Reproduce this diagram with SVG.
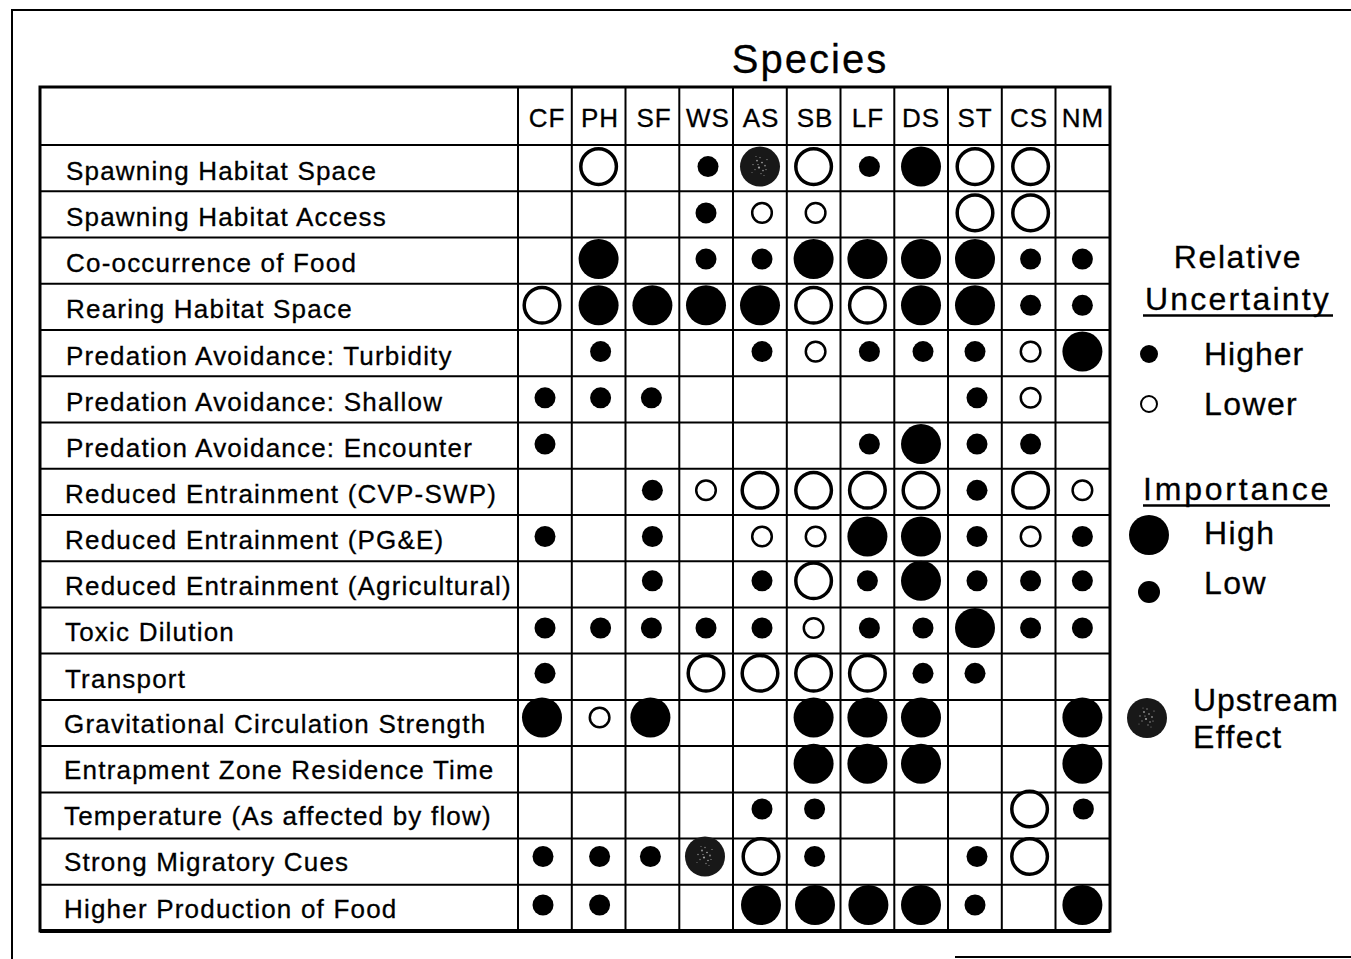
<svg xmlns="http://www.w3.org/2000/svg" xmlns:xlink="http://www.w3.org/1999/xlink" width="1351" height="959" viewBox="0 0 1351 959">
  <style>
    text { font-family: "Liberation Sans", Arial, Helvetica, sans-serif; fill: #000; stroke: #000; stroke-width: 0.3px; }
    .lbl { font-size: 26px; letter-spacing: 1.2px; }
    .hdr { font-size: 26px; letter-spacing: 1px; text-anchor: middle; }
    .title { font-size: 40px; letter-spacing: 2px; text-anchor: middle; }
    .leg { font-size: 32px; letter-spacing: 1.4px; }
    .legc { font-size: 32px; letter-spacing: 1.6px; text-anchor: middle; }
    .grid { stroke: #000; stroke-width: 2; fill: none; }
    .frame { stroke: #000; stroke-width: 2; fill: none; }
    .ul { stroke: #000; stroke-width: 2.5; }
  </style>
  <defs>
    <!-- high importance, higher uncertainty -->
    <g id="F"><circle r="20" fill="#000"/></g>
    <!-- low importance, higher uncertainty -->
    <g id="f"><circle r="10.5" fill="#000"/></g>
    <!-- high importance, lower uncertainty -->
    <g id="O"><circle r="17.8" fill="none" stroke="#000" stroke-width="3.5"/></g>
    <!-- low importance, lower uncertainty -->
    <g id="o"><circle r="9.8" fill="none" stroke="#000" stroke-width="2.5"/></g>
    <!-- upstream effect: dark speckled disc -->
    <g id="U">
      <circle r="20" fill="#181818"/>
      <circle cx="-3" cy="-6" r="0.9" fill="#9a9a9a"/>
      <circle cx="2" cy="-4" r="0.8" fill="#b0b0b0"/>
      <circle cx="5" cy="-1" r="0.9" fill="#8a8a8a"/>
      <circle cx="-1" cy="1" r="1.1" fill="#a0a0a0"/>
      <circle cx="3" cy="4" r="0.8" fill="#9a9a9a"/>
      <circle cx="-5" cy="3" r="0.7" fill="#888"/>
      <circle cx="0" cy="-9" r="0.7" fill="#999"/>
      <circle cx="7" cy="-7" r="0.6" fill="#aaa"/>
      <circle cx="-7" cy="-2" r="0.7" fill="#999"/>
      <circle cx="1" cy="7" r="0.7" fill="#888"/>
      <circle cx="6" cy="3" r="0.6" fill="#aaa"/>
      <circle cx="-2" cy="-2" r="0.6" fill="#bbb"/>
      <circle cx="-4" cy="-10" r="0.5" fill="#999"/>
      <circle cx="4" cy="9" r="0.5" fill="#999"/>
      <circle cx="-8" cy="6" r="0.5" fill="#888"/>
    </g>
  </defs>

  <rect width="1351" height="959" fill="#fff"/>

  <!-- page frame -->
  <g id="frame" class="frame">
    <polyline points="12,959 12,10 1351,10"/>
    <line x1="955" y1="957" x2="1351" y2="957"/>
  </g>

  <text id="title" class="title" x="810" y="73">Species</text>

  <!-- table grid -->
  <g id="grid" class="grid">
    <rect x="40" y="87" width="1070" height="844" stroke-width="3"/>
    <line x1="40" y1="931" x2="1110" y2="931" stroke-width="4"/>
    <line x1="40" y1="145" x2="1110" y2="145"/>
    <line x1="40" y1="191.2" x2="1110" y2="191.2"/>
    <line x1="40" y1="237.5" x2="1110" y2="237.5"/>
    <line x1="40" y1="283.7" x2="1110" y2="283.7"/>
    <line x1="40" y1="330" x2="1110" y2="330"/>
    <line x1="40" y1="376.2" x2="1110" y2="376.2"/>
    <line x1="40" y1="422.4" x2="1110" y2="422.4"/>
    <line x1="40" y1="468.7" x2="1110" y2="468.7"/>
    <line x1="40" y1="514.9" x2="1110" y2="514.9"/>
    <line x1="40" y1="561.2" x2="1110" y2="561.2"/>
    <line x1="40" y1="607.4" x2="1110" y2="607.4"/>
    <line x1="40" y1="653.6" x2="1110" y2="653.6"/>
    <line x1="40" y1="699.9" x2="1110" y2="699.9"/>
    <line x1="40" y1="746.1" x2="1110" y2="746.1"/>
    <line x1="40" y1="792.4" x2="1110" y2="792.4"/>
    <line x1="40" y1="838.6" x2="1110" y2="838.6"/>
    <line x1="40" y1="884.8" x2="1110" y2="884.8"/>
    <line x1="518" y1="87" x2="518" y2="931"/>
    <line x1="571.8" y1="87" x2="571.8" y2="931"/>
    <line x1="625.5" y1="87" x2="625.5" y2="931"/>
    <line x1="679.3" y1="87" x2="679.3" y2="931"/>
    <line x1="733" y1="87" x2="733" y2="931"/>
    <line x1="786.8" y1="87" x2="786.8" y2="931"/>
    <line x1="840.5" y1="87" x2="840.5" y2="931"/>
    <line x1="894.3" y1="87" x2="894.3" y2="931"/>
    <line x1="948" y1="87" x2="948" y2="931"/>
    <line x1="1001.8" y1="87" x2="1001.8" y2="931"/>
    <line x1="1055.5" y1="87" x2="1055.5" y2="931"/>
  </g>

  <!-- species column headings -->
  <g id="headers">
    <text class="hdr" x="547" y="127">CF</text>
    <text class="hdr" x="600" y="127">PH</text>
    <text class="hdr" x="654" y="127">SF</text>
    <text class="hdr" x="708" y="127">WS</text>
    <text class="hdr" x="761" y="127">AS</text>
    <text class="hdr" x="815" y="127">SB</text>
    <text class="hdr" x="868" y="127">LF</text>
    <text class="hdr" x="921" y="127">DS</text>
    <text class="hdr" x="975" y="127">ST</text>
    <text class="hdr" x="1029" y="127">CS</text>
    <text class="hdr" x="1083" y="127">NM</text>
  </g>

  <!-- factor rows -->
  <g id="row-spawning-space">
    <text class="lbl" x="66" y="180">Spawning Habitat Space</text>
    <use href="#O" x="598.6" y="166.6"/>
    <use href="#f" x="708" y="166.6"/>
    <use href="#U" x="760" y="166.6"/>
    <use href="#O" x="813.6" y="166.6"/>
    <use href="#f" x="869.4" y="166.6"/>
    <use href="#F" x="921" y="166.6"/>
    <use href="#O" x="975" y="166.6"/>
    <use href="#O" x="1030.6" y="166.6"/>
  </g>
  <g id="row-spawning-access">
    <text class="lbl" x="66" y="226">Spawning Habitat Access</text>
    <use href="#f" x="706" y="212.9"/>
    <use href="#o" x="762" y="212.9"/>
    <use href="#o" x="815.6" y="212.9"/>
    <use href="#O" x="975" y="212.9"/>
    <use href="#O" x="1030.6" y="212.9"/>
  </g>
  <g id="row-food-cooccurrence">
    <text class="lbl" x="66" y="272">Co-occurrence of Food</text>
    <use href="#F" x="598.6" y="259.1"/>
    <use href="#f" x="706" y="259.1"/>
    <use href="#f" x="762" y="259.1"/>
    <use href="#F" x="813.6" y="259.1"/>
    <use href="#F" x="867.4" y="259.1"/>
    <use href="#F" x="921" y="259.1"/>
    <use href="#F" x="975" y="259.1"/>
    <use href="#f" x="1030.6" y="259.1"/>
    <use href="#f" x="1082.4" y="259.1"/>
  </g>
  <g id="row-rearing-space">
    <text class="lbl" x="66" y="318">Rearing Habitat Space</text>
    <use href="#O" x="542" y="305.3"/>
    <use href="#F" x="598.6" y="305.3"/>
    <use href="#F" x="652.4" y="305.3"/>
    <use href="#F" x="706" y="305.3"/>
    <use href="#F" x="760" y="305.3"/>
    <use href="#O" x="813.6" y="305.3"/>
    <use href="#O" x="867.4" y="305.3"/>
    <use href="#F" x="921" y="305.3"/>
    <use href="#F" x="975" y="305.3"/>
    <use href="#f" x="1030.6" y="305.3"/>
    <use href="#f" x="1082.4" y="305.3"/>
  </g>
  <g id="row-predation-turbidity">
    <text class="lbl" x="66" y="365">Predation Avoidance: Turbidity</text>
    <use href="#f" x="600.6" y="351.6"/>
    <use href="#f" x="762" y="351.6"/>
    <use href="#o" x="815.6" y="351.6"/>
    <use href="#f" x="869.4" y="351.6"/>
    <use href="#f" x="923" y="351.6"/>
    <use href="#f" x="975" y="351.6"/>
    <use href="#o" x="1030.6" y="351.6"/>
    <use href="#F" x="1082.4" y="351.6"/>
  </g>
  <g id="row-predation-shallow">
    <text class="lbl" x="66" y="411">Predation Avoidance: Shallow</text>
    <use href="#f" x="545" y="397.8"/>
    <use href="#f" x="600.6" y="397.8"/>
    <use href="#f" x="651.4" y="397.8"/>
    <use href="#f" x="977" y="397.8"/>
    <use href="#o" x="1030.6" y="397.8"/>
  </g>
  <g id="row-predation-encounter">
    <text class="lbl" x="66" y="457">Predation Avoidance: Encounter</text>
    <use href="#f" x="545" y="444.1"/>
    <use href="#f" x="869.4" y="444.1"/>
    <use href="#F" x="921" y="444.1"/>
    <use href="#f" x="977" y="444.1"/>
    <use href="#f" x="1030.6" y="444.1"/>
  </g>
  <g id="row-entrainment-cvp">
    <text class="lbl" x="65" y="503">Reduced Entrainment (CVP-SWP)</text>
    <use href="#f" x="652.4" y="490.3"/>
    <use href="#o" x="706" y="490.3"/>
    <use href="#O" x="760" y="490.3"/>
    <use href="#O" x="813.6" y="490.3"/>
    <use href="#O" x="867.4" y="490.3"/>
    <use href="#O" x="921" y="490.3"/>
    <use href="#f" x="977" y="490.3"/>
    <use href="#O" x="1030.6" y="490.3"/>
    <use href="#o" x="1082.4" y="490.3"/>
  </g>
  <g id="row-entrainment-pge">
    <text class="lbl" x="65" y="549">Reduced Entrainment (PG&amp;E)</text>
    <use href="#f" x="545" y="536.5"/>
    <use href="#f" x="652.4" y="536.5"/>
    <use href="#o" x="762" y="536.5"/>
    <use href="#o" x="815.6" y="536.5"/>
    <use href="#F" x="867.4" y="536.5"/>
    <use href="#F" x="921" y="536.5"/>
    <use href="#f" x="977" y="536.5"/>
    <use href="#o" x="1030.6" y="536.5"/>
    <use href="#f" x="1082.4" y="536.5"/>
  </g>
  <g id="row-entrainment-agricultural">
    <text class="lbl" x="65" y="595">Reduced Entrainment (Agricultural)</text>
    <use href="#f" x="652.4" y="580.8"/>
    <use href="#f" x="762" y="580.8"/>
    <use href="#O" x="813.6" y="580.8"/>
    <use href="#f" x="867.4" y="580.8"/>
    <use href="#F" x="921" y="580.8"/>
    <use href="#f" x="977" y="580.8"/>
    <use href="#f" x="1030.6" y="580.8"/>
    <use href="#f" x="1082.4" y="580.8"/>
  </g>
  <g id="row-toxic-dilution">
    <text class="lbl" x="65" y="641">Toxic Dilution</text>
    <use href="#f" x="545" y="628"/>
    <use href="#f" x="600.6" y="628"/>
    <use href="#f" x="651.4" y="628"/>
    <use href="#f" x="706" y="628"/>
    <use href="#f" x="762" y="628"/>
    <use href="#o" x="813.6" y="628"/>
    <use href="#f" x="869.4" y="628"/>
    <use href="#f" x="923" y="628"/>
    <use href="#F" x="975" y="628"/>
    <use href="#f" x="1030.6" y="628"/>
    <use href="#f" x="1082.4" y="628"/>
  </g>
  <g id="row-transport">
    <text class="lbl" x="65" y="688">Transport</text>
    <use href="#f" x="545" y="673.3"/>
    <use href="#O" x="706" y="673.3"/>
    <use href="#O" x="760" y="673.3"/>
    <use href="#O" x="813.6" y="673.3"/>
    <use href="#O" x="867.4" y="673.3"/>
    <use href="#f" x="923" y="673.3"/>
    <use href="#f" x="975" y="673.3"/>
  </g>
  <g id="row-gravitational-circulation">
    <text class="lbl" x="64" y="733">Gravitational Circulation Strength</text>
    <use href="#F" x="542" y="717.5"/>
    <use href="#o" x="599.6" y="717.5"/>
    <use href="#F" x="650.4" y="717.5"/>
    <use href="#F" x="813.6" y="717.5"/>
    <use href="#F" x="867.4" y="717.5"/>
    <use href="#F" x="921" y="717.5"/>
    <use href="#F" x="1082.4" y="717.5"/>
  </g>
  <g id="row-entrapment-residence">
    <text class="lbl" x="64" y="779">Entrapment Zone Residence Time</text>
    <use href="#F" x="813.6" y="763.7"/>
    <use href="#F" x="867.4" y="763.7"/>
    <use href="#F" x="921" y="763.7"/>
    <use href="#F" x="1082.4" y="763.7"/>
  </g>
  <g id="row-temperature">
    <text class="lbl" x="64" y="825">Temperature (As affected by flow)</text>
    <use href="#f" x="762" y="809"/>
    <use href="#f" x="814.6" y="809"/>
    <use href="#O" x="1029.6" y="809"/>
    <use href="#f" x="1083.4" y="809"/>
  </g>
  <g id="row-migratory-cues">
    <text class="lbl" x="64" y="871">Strong Migratory Cues</text>
    <use href="#f" x="543" y="856.5"/>
    <use href="#f" x="599.6" y="856.5"/>
    <use href="#f" x="650.4" y="856.5"/>
    <use href="#U" x="705" y="856.5"/>
    <use href="#O" x="761" y="856.5"/>
    <use href="#f" x="814.6" y="856.5"/>
    <use href="#f" x="977" y="856.5"/>
    <use href="#O" x="1029.6" y="856.5"/>
  </g>
  <g id="row-food-production">
    <text class="lbl" x="64" y="918">Higher Production of Food</text>
    <use href="#f" x="543" y="905"/>
    <use href="#f" x="599.6" y="905"/>
    <use href="#F" x="761" y="905"/>
    <use href="#F" x="815" y="905"/>
    <use href="#F" x="868.4" y="905"/>
    <use href="#F" x="921" y="905"/>
    <use href="#f" x="975" y="905"/>
    <use href="#F" x="1082.4" y="905"/>
  </g>

  <!-- key -->
  <g id="legend-uncertainty">
    <text class="legc" x="1238" y="268">Relative</text>
    <text class="legc" x="1238" y="310" style="letter-spacing:2.2px">Uncertainty</text>
    <line class="ul" x1="1143" y1="315.5" x2="1333" y2="315.5"/>
    <circle cx="1149" cy="354" r="9" fill="#000"/>
    <text class="leg" x="1204" y="365" style="letter-spacing:1px">Higher</text>
    <circle cx="1149" cy="404" r="8" fill="none" stroke="#000" stroke-width="2"/>
    <text class="leg" x="1204" y="415">Lower</text>
  </g>
  <g id="legend-importance">
    <text class="leg" x="1143" y="500" style="letter-spacing:2.8px">Importance</text>
    <line class="ul" x1="1143" y1="505.5" x2="1330" y2="505.5"/>
    <circle cx="1149" cy="535" r="20" fill="#000"/>
    <text class="leg" x="1204" y="544">High</text>
    <circle cx="1149" cy="592" r="11" fill="#000"/>
    <text class="leg" x="1204" y="594">Low</text>
  </g>
  <g id="legend-upstream">
    <use href="#U" x="1147" y="718"/>
    <text class="leg" x="1193" y="711" style="letter-spacing:0.9px">Upstream</text>
    <text class="leg" x="1193" y="748">Effect</text>
  </g>
</svg>
